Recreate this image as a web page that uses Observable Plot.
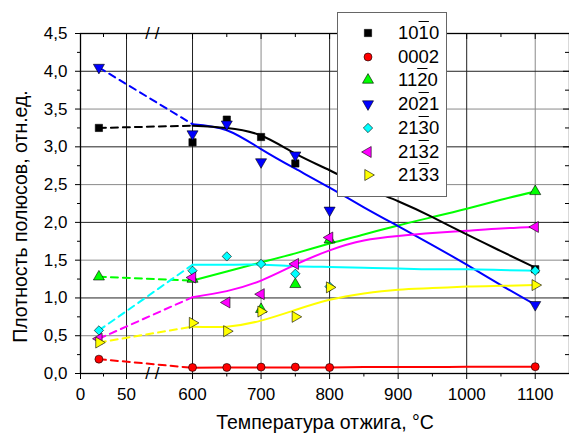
<!DOCTYPE html>
<html><head><meta charset="utf-8">
<script src="https://cdn.jsdelivr.net/npm/d3@7"></script>
<script src="https://cdn.jsdelivr.net/npm/@observablehq/plot@0.6"></script>
<style>
body{margin:0;background:#fff;}
#wrap{position:relative;width:569px;height:441px;overflow:hidden;}
#legend{position:absolute;left:337px;top:12px;width:110px;height:185px;box-sizing:border-box;border:1px solid #666;background:#fff;font-family:"Liberation Sans",Arial,sans-serif;font-size:18.5px;color:#000;}
.row{position:absolute;left:0;height:22px;width:100%;}
.row svg{position:absolute;left:22px;top:3px;overflow:visible;}
.row .t{position:absolute;left:60px;top:0;line-height:22px;white-space:nowrap;}
.ov{text-decoration:overline;}
</style></head><body><div id="wrap"></div>
<script>
// ---- data ----
const temps = [20, 600, 650, 700, 750, 800, 1100];
const s1010 = [3.25, 3.06, 3.36, 3.13, 2.78, null, 1.38];
const s0002 = [0.19, 0.08, 0.08, 0.085, 0.085, 0.08, 0.09];
const s1120 = [1.28, 1.25, null, 0.85, 1.18, 1.77, 2.41];
const s2021 = [4.05, 3.17, 3.30, 2.80, 2.89, 2.16, 0.91];
const s2130 = [0.57, 1.36, 1.55, 1.45, 1.32, 1.15, 1.36];
const s2132 = [0.46, 1.27, 0.94, 1.05, 1.45, 1.80, 1.94];
const s2133 = [0.41, 0.67, 0.56, 0.82, 0.75, 1.14, 1.17];

const curveTemps = [600, 650, 700, 750, 800, 850, 900, 950, 1000, 1050, 1100];
const c1010 = [3.28, 3.25, 3.15, 2.91, 2.69, 2.47, 2.28, 2.07, 1.84, 1.62, 1.40];
const c0002 = [0.075, 0.08, 0.08, 0.08, 0.08, 0.085, 0.085, 0.085, 0.09, 0.09, 0.09];
const c1120 = [1.23, 1.35, 1.47, 1.59, 1.72, 1.84, 1.96, 2.07, 2.18, 2.30, 2.41];
const c2021 = [3.30, 3.22, 2.97, 2.71, 2.46, 2.20, 1.95, 1.70, 1.44, 1.17, 0.91];
const c2130 = [1.44, 1.44, 1.44, 1.42, 1.41, 1.40, 1.39, 1.38, 1.38, 1.37, 1.36];
const c2132 = [1.01, 1.09, 1.23, 1.44, 1.63, 1.76, 1.82, 1.86, 1.89, 1.92, 1.94];
const c2133 = [0.62, 0.62, 0.70, 0.84, 0.975, 1.06, 1.11, 1.13, 1.15, 1.16, 1.17];

const labels = ["10{1}0", "0002", "11{2}0", "20{2}1", "21{3}0", "21{3}2", "21{3}3"];
const xMajor = [0, 50, 600, 700, 800, 900, 1000, 1100];
const xMinor = [25, 650, 750, 850, 950, 1050, 1150];
const yMajor = [0, 0.5, 1, 1.5, 2, 2.5, 3, 3.5, 4, 4.5];
const yMinor = [0.25, 0.75, 1.25, 1.75, 2.25, 2.75, 3.25, 3.75, 4.25];
const xGridDark = [50, 600, 800, 1000];
const xGridLight = [700, 900, 1100];
const yGridDark = [1, 2, 3, 4];
const yGridLight = [0.5, 1.5, 2.5, 3.5];
const xTitle = "Температура отжига, °C";
const yTitle = "Плотность полюсов, отн.ед.";

// ---- broken x axis mapping ----
const K = 0.7446;
const U = t => t < 300 ? t : 121.7 + (t - 600) * K;
const Uinv = u => u < 100 ? u : 600 + (u - 121.7) / K;
const BREAK_U = 78;

// ---- custom symbols ----
const s3 = Math.sqrt(3);
const triDown = {draw(c, size) {const y = -Math.sqrt(size / (s3 * 3)); c.moveTo(0, -2 * y); c.lineTo(-s3 * y, y); c.lineTo(s3 * y, y); c.closePath();}};
const triLeft = {draw(c, size) {const y = -Math.sqrt(size / (s3 * 3)); c.moveTo(2 * y, 0); c.lineTo(-y, -s3 * y); c.lineTo(-y, s3 * y); c.closePath();}};
const triRight = {draw(c, size) {const y = -Math.sqrt(size / (s3 * 3)); c.moveTo(-2 * y, 0); c.lineTo(y, -s3 * y); c.lineTo(y, s3 * y); c.closePath();}};

const series = [
  {pts: s1010, cur: c1010, color: "#000000", sym: d3.symbolSquare, r: 4.1},
  {pts: s0002, cur: c0002, color: "#ff0000", sym: d3.symbolCircle, r: 4},
  {pts: s1120, cur: c1120, color: "#00ff00", sym: d3.symbolTriangle, r: 4.1},
  {pts: s2021, cur: c2021, color: "#0000ff", sym: triDown, r: 4.1},
  {pts: s2130, cur: c2130, color: "#00ffff", sym: d3.symbolDiamond2, r: 4.2},
  {pts: s2132, cur: c2132, color: "#ff00ff", sym: triLeft, r: 4.1},
  {pts: s2133, cur: c2133, color: "#ffff00", sym: triRight, r: 4.1}
];
series.forEach((s, k) => { s.label = labels[k]; });

const lineOrder = [1, 2, 3, 4, 5, 6, 0];
const marks = [
  Plot.ruleX(xGridLight.map(U), {stroke: "#8a8a8a", strokeWidth: 1}),
  Plot.ruleY(yGridLight, {stroke: "#8a8a8a", strokeWidth: 1}),
  Plot.ruleX(xGridDark.map(U), {stroke: "#222", strokeWidth: 1}),
  Plot.ruleY(yGridDark, {stroke: "#222", strokeWidth: 1})
];
for (const k of lineOrder) {
  const s = series[k];
  const dash = [{t: temps[0], v: s.pts[0]}, {t: curveTemps[0], v: s.cur[0]}];
  marks.push(Plot.line(dash, {x: d => U(d.t), y: "v", stroke: s.color, strokeWidth: 2, strokeDasharray: "7,5"}));
  const cur = curveTemps.map((t, i) => ({t, v: s.cur[i]}));
  marks.push(Plot.line(cur, {x: d => U(d.t), y: "v", stroke: s.color, strokeWidth: 2, curve: "natural"}));
}
for (const s of series) {
  const pts = temps.map((t, i) => ({t, v: s.pts[i]})).filter(d => d.v != null);
  marks.push(Plot.dot(pts, {x: d => U(d.t), y: "v", symbol: s.sym, r: s.r, fill: s.color, stroke: "#000", strokeWidth: 0.6}));
}
marks.push(
  Plot.frame({stroke: "#000", strokeWidth: 1.3}),
  Plot.axisY(yMajor, {anchor: "left", tickSize: 5, tickPadding: 8, fontSize: 17, label: null, tickFormat: d => d.toFixed(1).replace(".", ",")}),
  Plot.axisY(yMinor, {anchor: "left", tickSize: 3, label: null, tickFormat: () => ""}),
  Plot.axisX(xMajor.map(U), {anchor: "bottom", tickSize: 6, tickPadding: 8, fontSize: 17, label: null, tickFormat: u => String(Math.round(Uinv(u)))}),
  Plot.axisX(xMinor.map(U), {anchor: "bottom", tickSize: 3.5, label: null, tickFormat: () => ""}),
  Plot.tickX(xMajor.map(U), {insetBottom: 334, stroke: "#000"}),
  Plot.tickX(xMinor.map(U), {insetBottom: 336, stroke: "#000"}),
  Plot.tickY(yMajor, {insetLeft: 483, stroke: "#000"}),
  Plot.tickY(yMinor, {insetLeft: 485, stroke: "#000"}),
  Plot.text([0, 4.5], {x: () => BREAK_U, y: d => d, text: () => "/ /", fontSize: 17, fill: "#000"}),
  Plot.text([xTitle], {frameAnchor: "bottom", textAnchor: "middle", dy: 55, fontSize: 19.5, fill: "#000"}),
  Plot.text([yTitle], {frameAnchor: "left", textAnchor: "middle", rotate: -90, dx: -60, dy: 13, fontSize: 19.5, fill: "#000"})
);

const chart = Plot.plot({
  width: 569, height: 441,
  marginLeft: 80, marginRight: 0, marginTop: 33, marginBottom: 68,
  x: {type: "linear", domain: [0, U(1150)]},
  y: {type: "linear", domain: [0, 4.5]},
  style: {fontFamily: "'Liberation Sans', Arial, sans-serif", fontSize: "17px", background: "#fff", color: "#000"},
  marks
});
const wrap = document.getElementById("wrap");
wrap.appendChild(chart);

// ---- legend ----
const legend = document.createElement("div");
legend.id = "legend";
series.forEach((s, i) => {
  const row = document.createElement("div");
  row.className = "row";
  row.style.top = (9 + i * 23.7) + "px";
  const svg = d3.create("svg").attr("width", 16).attr("height", 16);
  svg.append("path").attr("transform", "translate(8,8)")
    .attr("d", d3.symbol(s.sym, s.r * s.r * Math.PI)())
    .attr("fill", s.color).attr("stroke", "#000").attr("stroke-width", 0.6);
  row.appendChild(svg.node());
  const t = document.createElement("span");
  t.className = "t";
  t.innerHTML = s.label.replace(/\{(\d)\}/, '<span class="ov">$1</span>');
  row.appendChild(t);
  legend.appendChild(row);
});
wrap.appendChild(legend);
</script></body></html>
